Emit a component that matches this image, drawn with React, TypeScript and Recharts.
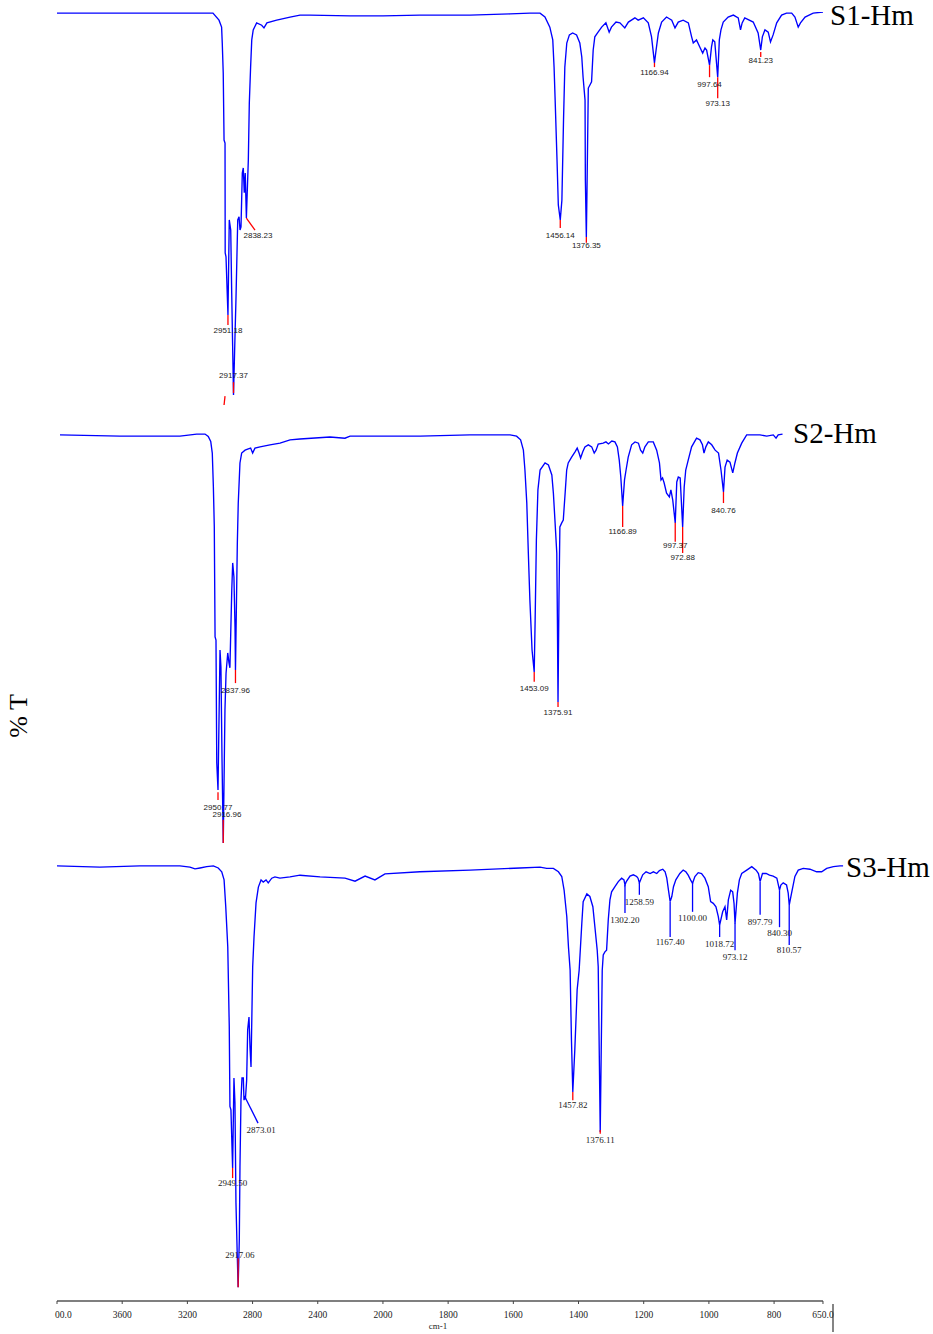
import React from "react";
import { ComposedChart, Line, XAxis, YAxis, ReferenceLine, Scatter } from "recharts";

// ---------- data ----------
// [wavenumber (cm-1), %T]
const s1Spectrum: [number, number][] = [
  [4000, 99.7], [3613, 99.7], [3429, 99.7], [3184, 99.7], [3043, 99.7], [3006, 97.9], [2990, 96.1], [2986, 92.0],
  [2980, 84.3], [2975, 67.0], [2969, 66.2], [2968, 37.9], [2963, 36.9], [2951, 21.9], [2943, 46.4], [2934, 43.8],
  [2928, 27.6], [2923, 15.5], [2917, 1.3], [2908, 16.2], [2902, 25.8], [2891, 46.4], [2883, 47.2], [2877, 43.8],
  [2871, 44.6], [2863, 58.5], [2857, 59.8], [2851, 53.4], [2845, 58.5], [2838, 46.9], [2826, 61.9], [2820, 76.5],
  [2812, 85.8], [2805, 92.8], [2796, 95.4], [2775, 97.2], [2744, 96.6], [2730, 95.9], [2712, 97.2], [2652, 97.9],
  [2570, 98.7], [2509, 99.2], [2448, 99.2], [2202, 99.0], [2000, 99.0], [1887, 99.2], [1733, 99.2], [1610, 99.5],
  [1549, 99.7], [1518, 99.7], [1503, 98.7], [1488, 96.1], [1479, 92.8], [1475, 85.8], [1472, 78.1], [1466, 61.9],
  [1462, 50.3], [1456, 46.4], [1451, 51.5], [1446, 72.2], [1442, 85.8], [1436, 92.0], [1428, 94.1], [1418, 94.6],
  [1406, 94.1], [1396, 92.0], [1390, 88.4], [1386, 83.2], [1380, 77.3], [1379, 56.7], [1376, 42.0], [1374, 54.1],
  [1370, 80.4], [1365, 81.2], [1360, 82.0], [1355, 90.2], [1350, 93.6], [1340, 94.8], [1329, 96.1], [1316, 97.2],
  [1306, 94.8], [1299, 96.1], [1285, 97.4], [1273, 97.2], [1258, 95.9], [1247, 97.4], [1227, 98.5], [1217, 97.9],
  [1201, 98.5], [1186, 97.2], [1176, 93.6], [1167, 86.9], [1162, 90.2], [1155, 94.6], [1145, 97.4], [1130, 98.7],
  [1114, 97.9], [1104, 95.9], [1094, 97.4], [1079, 97.9], [1063, 97.2], [1053, 93.6], [1048, 92.0], [1038, 92.8],
  [1028, 91.0], [1019, 89.4], [1012, 90.7], [1007, 90.2], [998, 86.3], [992, 91.0], [988, 92.8], [982, 92.3],
  [973, 83.2], [968, 92.8], [963, 95.4], [956, 97.4], [941, 98.7], [925, 99.2], [910, 98.5], [903, 95.4],
  [898, 97.2], [890, 98.5], [864, 97.4], [849, 94.6], [841, 90.2], [836, 93.6], [828, 95.4], [818, 94.8],
  [811, 92.3], [803, 94.1], [792, 97.2], [777, 99.2], [762, 99.7], [746, 99.7], [736, 98.7], [726, 96.1],
  [719, 97.2], [705, 98.7], [680, 99.7], [650, 100],
];

const s2Spectrum: [number, number][] = [
  [3973, 99.3], [3585, 99.0], [3197, 99.0], [3089, 99.5], [3035, 99.5], [3014, 98.9], [2998, 97.7], [2988, 94.9],
  [2981, 86.8], [2975, 77.1], [2970, 50.4], [2964, 49.6], [2959, 19.9], [2951, 13.3], [2938, 47.2], [2932, 43.1],
  [2925, 20.6], [2917, 0.5], [2906, 32.7], [2899, 41.6], [2888, 46.5], [2880, 44.1], [2874, 42.9], [2862, 61.7],
  [2856, 68.3], [2848, 64.9], [2841, 52.8], [2838, 42.4], [2826, 73.1], [2820, 82.8], [2809, 92.5], [2798, 94.9],
  [2776, 95.6], [2755, 95.9], [2740, 96.1], [2727, 94.9], [2712, 96.1], [2679, 96.4], [2615, 96.9], [2550, 97.3],
  [2485, 98.1], [2421, 98.3], [2227, 98.8], [2130, 98.5], [2097, 99.0], [1952, 99.0], [1822, 99.0], [1661, 99.3],
  [1564, 99.3], [1531, 99.3], [1510, 99.0], [1497, 98.1], [1488, 95.6], [1483, 90.8], [1477, 82.8], [1472, 70.7],
  [1467, 59.3], [1460, 47.2], [1453, 41.9], [1450, 54.5], [1446, 73.8], [1441, 86.0], [1434, 90.8], [1418, 92.5],
  [1407, 92.0], [1396, 89.6], [1391, 85.2], [1386, 78.7], [1380, 70.7], [1378, 54.5], [1376, 34.6], [1373, 59.3],
  [1370, 77.0], [1364, 78.0], [1359, 78.7], [1353, 85.2], [1348, 90.8], [1343, 92.5], [1332, 93.9], [1321, 95.2],
  [1314, 96.1], [1308, 94.9], [1303, 93.7], [1296, 95.2], [1289, 96.4], [1278, 96.9], [1267, 96.4], [1259, 94.9],
  [1253, 95.6], [1246, 97.1], [1230, 97.3], [1221, 97.6], [1213, 97.1], [1202, 97.8], [1192, 97.6], [1184, 96.4],
  [1178, 93.2], [1173, 89.1], [1167, 82.1], [1161, 88.4], [1156, 90.8], [1149, 93.9], [1138, 96.9], [1127, 97.6],
  [1116, 97.3], [1109, 95.6], [1102, 94.9], [1095, 96.4], [1084, 97.6], [1068, 97.6], [1057, 95.6], [1048, 92.5],
  [1043, 88.4], [1038, 88.9], [1033, 87.7], [1025, 85.2], [1016, 84.3], [1011, 86.0], [1005, 83.5], [997, 78.0],
  [992, 87.9], [987, 89.1], [981, 88.9], [973, 77.0], [968, 86.7], [963, 90.8], [955, 93.2], [944, 96.4],
  [928, 98.5], [917, 98.1], [909, 96.9], [904, 94.9], [898, 96.4], [890, 97.6], [879, 96.9], [868, 95.6],
  [857, 94.9], [849, 90.8], [841, 85.5], [836, 91.5], [829, 93.2], [820, 92.7], [811, 90.1], [804, 92.5],
  [796, 94.9], [782, 97.3], [766, 99.3], [745, 99.3], [723, 99.3], [701, 99.0], [680, 99.3], [671, 98.5],
  [664, 99.3], [650, 99.5],
];

const s3Spectrum: [number, number][] = [
  [4000, 99.1], [3743, 98.8], [3504, 99.1], [3265, 99.1], [3205, 98.8], [3175, 98.4], [3145, 98.6], [3105, 98.9],
  [3065, 99.1], [3036, 98.6], [3015, 97.7], [3001, 95.8], [2991, 89.5], [2979, 80.1], [2970, 61.3], [2966, 42.6],
  [2960, 41.8], [2950, 28.2], [2942, 49.3], [2936, 43.4], [2930, 20.0], [2923, 8.9], [2917, 0.2], [2910, 11.3],
  [2906, 28.4], [2900, 44.1], [2894, 49.3], [2886, 49.3], [2882, 44.1], [2876, 44.8], [2873, 44.6], [2866, 48.8],
  [2860, 60.6], [2852, 63.6], [2846, 56.6], [2840, 51.9], [2836, 61.3], [2830, 75.4], [2822, 82.4], [2810, 90.4],
  [2796, 94.1], [2780, 95.8], [2767, 95.3], [2750, 95.8], [2737, 95.1], [2716, 96.2], [2697, 96.5], [2667, 96.2],
  [2607, 96.5], [2547, 96.9], [2427, 96.5], [2278, 96.2], [2218, 95.5], [2158, 96.7], [2099, 95.8], [2039, 97.2],
  [1915, 97.7], [1765, 98.1], [1616, 98.6], [1556, 98.8], [1536, 98.5], [1516, 98.5], [1501, 97.7], [1491, 96.6],
  [1484, 93.4], [1476, 87.2], [1471, 80.1], [1466, 74.6], [1462, 58.2], [1458, 46.0], [1452, 55.9], [1445, 70.0],
  [1439, 74.6], [1431, 85.7], [1427, 90.7], [1416, 92.5], [1407, 91.9], [1398, 89.5], [1392, 84.8], [1385, 79.3],
  [1382, 75.4], [1379, 55.9], [1376, 36.6], [1373, 55.9], [1370, 74.6], [1367, 78.2], [1362, 78.9], [1357, 79.3],
  [1352, 86.4], [1347, 91.1], [1342, 93.0], [1332, 94.2], [1322, 95.4], [1312, 96.2], [1305, 95.8], [1302, 94.6],
  [1298, 95.4], [1287, 96.7], [1277, 97.0], [1267, 96.6], [1263, 96.2], [1259, 95.1], [1249, 97.0], [1239, 97.7],
  [1227, 97.3], [1217, 97.7], [1207, 97.3], [1199, 98.0], [1189, 98.3], [1182, 97.7], [1177, 96.2], [1172, 93.4],
  [1167, 90.7], [1162, 91.9], [1157, 94.2], [1150, 95.8], [1138, 97.3], [1128, 98.1], [1120, 97.7], [1113, 96.9],
  [1106, 95.8], [1100, 95.0], [1093, 96.6], [1083, 97.5], [1073, 97.3], [1063, 96.2], [1053, 94.2], [1046, 90.7],
  [1038, 90.3], [1030, 89.5], [1023, 87.2], [1019, 85.2], [1010, 88.3], [1003, 89.5], [998, 86.4], [993, 91.1],
  [986, 93.4], [980, 93.0], [976, 90.3], [973, 85.6], [966, 92.7], [960, 95.8], [953, 97.3], [938, 98.1],
  [923, 98.9], [910, 98.1], [903, 97.3], [898, 95.4], [891, 97.3], [880, 97.3], [870, 96.9], [859, 96.7],
  [848, 96.2], [840, 93.4], [836, 94.6], [829, 95.1], [819, 94.6], [814, 92.7], [811, 89.9], [804, 92.7],
  [794, 96.6], [784, 98.1], [769, 98.5], [749, 98.3], [729, 97.7], [714, 97.7], [699, 98.5], [679, 98.9],
  [659, 99.1], [650, 99.1],
];

type Peak = { text: string; wn: number; tipT: number; endT: number; lblT?: number; endWn?: number; lblWn?: number };

const s1Peaks: Peak[] = [
  { text: "2951.18", wn: 2951, tipT: 21.9, endT: 19.3, lblT: 18.0 },
  { text: "2917.37", wn: 2917, tipT: 1.8, endT: 4.6, lblT: 6.2 },
  { text: "2838.23", wn: 2838, tipT: 46.9, endT: 43.8, endWn: 2785, lblT: 42.5, lblWn: 2767 },
  { text: "1456.14", wn: 1456, tipT: 46.4, endT: 44.3, lblT: 42.5 },
  { text: "1376.35", wn: 1376, tipT: 42.0, endT: 40.5, lblT: 39.7 },
  { text: "1166.94", wn: 1167, tipT: 86.9, endT: 85.8, lblT: 84.5 },
  { text: "997.64", wn: 998, tipT: 86.3, endT: 83.2, lblT: 81.4 },
  { text: "973.13", wn: 973, tipT: 83.2, endT: 77.8, lblT: 76.3 },
  { text: "841.23", wn: 841, tipT: 89.7, endT: 88.4, lblT: 87.4 },
  { text: "", wn: 2969, tipT: 1.0, endT: -1.3, endWn: 2975 },
];

const s2Peaks: Peak[] = [
  { text: "2950.77", wn: 2951, tipT: 12.8, endT: 10.9, lblT: 9.2 },
  { text: "2916.96", wn: 2917, tipT: 0.5, endT: 6.1, lblT: 7.5, lblWn: 2893 },
  { text: "2837.96", wn: 2838, tipT: 42.4, endT: 39.2, lblT: 37.5 },
  { text: "1453.09", wn: 1453, tipT: 41.9, endT: 39.5, lblT: 37.8 },
  { text: "1375.91", wn: 1376, tipT: 34.6, endT: 33.4, lblT: 32.2 },
  { text: "1166.89", wn: 1167, tipT: 82.1, endT: 77.0, lblT: 75.8 },
  { text: "997.37", wn: 997, tipT: 78.0, endT: 73.4, lblT: 72.6 },
  { text: "972.88", wn: 973, tipT: 77.0, endT: 70.7, lblT: 69.7 },
  { text: "840.76", wn: 841, tipT: 85.5, endT: 82.8, lblT: 81.1 },
];

const s3PeaksRed: Peak[] = [
  { text: "2949.50", wn: 2950, tipT: 28.2, endT: 25.8, lblT: 24.6 },
  { text: "2917.06", wn: 2917, tipT: 0.2, endT: 7.0, lblT: 7.7, lblWn: 2906 },
  { text: "1457.82", wn: 1458, tipT: 46.0, endT: 44.1, lblT: 43.0 },
  { text: "1376.11", wn: 1376, tipT: 37.1, endT: 36.2, lblT: 34.7 },
];

const s3PeaksBlue: Peak[] = [
  { text: "2873.01", wn: 2873, tipT: 44.6, endT: 38.7, endWn: 2798, lblT: 37.1, lblWn: 2780 },
  { text: "1302.20", wn: 1302, tipT: 94.6, endT: 88.0, lblT: 86.4 },
  { text: "1258.59", wn: 1259, tipT: 95.1, endT: 92.3, lblT: 90.6 },
  { text: "1167.40", wn: 1167, tipT: 90.6, endT: 82.4, lblT: 81.2 },
  { text: "1100.00", wn: 1100, tipT: 95.1, endT: 88.3, lblT: 86.9 },
  { text: "1018.72", wn: 1019, tipT: 85.2, endT: 82.4, lblT: 80.8 },
  { text: "973.12", wn: 973, tipT: 85.7, endT: 79.3, lblT: 77.7 },
  { text: "897.79", wn: 898, tipT: 95.3, endT: 87.6, lblT: 85.9 },
  { text: "840.30", wn: 840, tipT: 93.4, endT: 84.7, lblT: 83.3 },
  { text: "810.57", wn: 811, tipT: 89.9, endT: 80.5, lblT: 79.3 },
];

const xTickWn = [4000, 3600, 3200, 2800, 2400, 2000, 1800, 1600, 1400, 1200, 1000, 800, 650];
const xTickLabels = ["00.0", "3600", "3200", "2800", "2400", "2000", "1800", "1600", "1400", "1200", "1000", "800", "650.0"];
const yTickIndex = [19, 20, 21, 22, 23, 24, 25, 26];
const traceTitles = ["S1-Hm", "S2-Hm", "S3-Hm"];

// ---------- layout ----------
const W = 933;
const H = 1334;
const PLOT = { left: 57, right: 845, top: 12, bottom: 1301 };
const XAXIS_H = 30;

// FTIR axis: 400 cm-1 per division above 2000, 200 cm-1 per division below
const toPos = (wn: number) => (wn >= 2000 ? (4000 - wn) / 400 : 5 + (2000 - wn) / 200);

const xDomain = (x4000: number, pxPerDiv: number): [number, number] => [
  (PLOT.left - x4000) / pxPerDiv,
  (PLOT.right - x4000) / pxPerDiv,
];
const yDomain = (y100: number, y0: number): [number, number] => {
  const k = (y0 - y100) / 100;
  const hi = 100 + (y100 - PLOT.top) / k;
  const lo = hi - (PLOT.bottom - PLOT.top) / k;
  return [lo, hi];
};

const toXY = (s: [number, number][]) => s.map(([wn, t]) => ({ x: toPos(wn), y: t }));
const toLabels = (ps: Peak[]) =>
  ps.filter((p) => p.text && p.lblT !== undefined).map((p) => ({
    x: toPos(p.lblWn ?? p.endWn ?? p.wn),
    y: p.lblT as number,
    text: p.text,
  }));

const traces = [
  { id: "s1", data: toXY(s1Spectrum), xd: xDomain(57, 65.19), yd: yDomain(12, 400),
    groups: [{ peaks: s1Peaks, color: "#ff0000" }], font: "Liberation Sans", fs: 8 },
  { id: "s2", data: toXY(s2Spectrum), xd: xDomain(55.8, 61.85), yd: yDomain(432, 845),
    groups: [{ peaks: s2Peaks, color: "#ff0000" }], font: "Liberation Sans", fs: 8 },
  { id: "s3", data: toXY(s3Spectrum), xd: xDomain(57, 66.9), yd: yDomain(862, 1288),
    groups: [{ peaks: s3PeaksRed, color: "#ff0000" }, { peaks: s3PeaksBlue, color: "#0000ff" }],
    font: "Liberation Serif", fs: 9 },
];

const mainX = xDomain(57, 65.19);
const yDivPx = 48.2;
const mainY: [number, number] = [
  -(PLOT.bottom - 42) / yDivPx + 26,
  -(PLOT.bottom - 42) / yDivPx + 26 + (PLOT.bottom - PLOT.top) / yDivPx,
];

const XTick = (props: any) => {
  const { x, y, index } = props;
  const label = xTickLabels[index];
  const first = index === 0;
  return (
    <text x={first ? x - 2 : x} y={y + 11.5} textAnchor={first ? "start" : "middle"}
      fontFamily="Liberation Serif" fontSize={9.5} fill="#222">
      {label}
    </text>
  );
};
const EmptyTick = () => <g />;

const makeLabelShape = (font: string, fs: number) => (props: any) => {
  const { cx, cy, payload } = props;
  return (
    <text x={cx} y={cy} textAnchor="middle" dominantBaseline="central" fontFamily={font}
      fontSize={fs} fill="#222">
      {payload.text}
    </text>
  );
};

export default function App() {
  return (
    <div style={{ position: "absolute", left: 0, top: 0, width: W, height: H, background: "#fff" }}>
      <ComposedChart
        width={W}
        height={H}
        margin={{ top: PLOT.top, left: PLOT.left, right: W - PLOT.right, bottom: H - PLOT.bottom - XAXIS_H }}
      >
        <XAxis xAxisId="main" type="number" dataKey="x" domain={mainX} allowDataOverflow
          ticks={xTickWn.map(toPos)} interval={0} height={XAXIS_H} axisLine={false}
          tickSize={3} tickMargin={2} tickLine={{ stroke: "#444", strokeWidth: 1 }} tick={<XTick />} />
        <YAxis yAxisId="main" type="number" domain={mainY} allowDataOverflow width={0}
          ticks={yTickIndex} interval={0} tickSize={3} tick={<EmptyTick />}
          axisLine={{ stroke: "#555", strokeWidth: 1.6 }} tickLine={{ stroke: "#222", strokeWidth: 1.2 }} />
        {traces.map((t) => [
          <XAxis key={t.id + "x"} xAxisId={t.id} type="number" dataKey="x" domain={t.xd} allowDataOverflow hide />,
          <YAxis key={t.id + "y"} yAxisId={t.id} type="number" dataKey="y" domain={t.yd} allowDataOverflow hide />,
        ])}
        <ReferenceLine xAxisId="main" yAxisId="main" ifOverflow="visible" stroke="#555" strokeWidth={1.6}
          segment={[{ x: toPos(4000), y: mainY[0] }, { x: toPos(650), y: mainY[0] }]} />
        {traces.map((t) => (
          <Line key={t.id} xAxisId={t.id} yAxisId={t.id} data={t.data} dataKey="y" type="linear"
            stroke="#0000ff" strokeWidth={1.35} dot={false} activeDot={false} isAnimationActive={false} />
        ))}
        {traces.map((t) =>
          t.groups.map((g, gi) =>
            g.peaks.map((p, i) => (
              <ReferenceLine key={`${t.id}-${gi}-${i}`} xAxisId={t.id} yAxisId={t.id} ifOverflow="visible"
                stroke={g.color} strokeWidth={1.3}
                segment={[{ x: toPos(p.wn), y: p.tipT }, { x: toPos(p.endWn ?? p.wn), y: p.endT }]} />
            ))
          )
        )}
        {traces.map((t) => (
          <Scatter key={t.id + "lbl"} xAxisId={t.id} yAxisId={t.id} dataKey="y"
            data={t.groups.flatMap((g) => toLabels(g.peaks))}
            shape={makeLabelShape(t.font, t.fs)} isAnimationActive={false} />
        ))}
      </ComposedChart>
      <svg width={W} height={H} style={{ position: "absolute", left: 0, top: 0, pointerEvents: "none" }}>
        <text x={830} y={25} fontFamily="Liberation Serif" fontSize={29} fill="#000">{traceTitles[0]}</text>
        <text x={793} y={443} fontFamily="Liberation Serif" fontSize={29} fill="#000">{traceTitles[1]}</text>
        <text x={846} y={877} fontFamily="Liberation Serif" fontSize={29} fill="#000">{traceTitles[2]}</text>
        <text x={0} y={0} transform="translate(27 716) rotate(-90)" textAnchor="middle"
          fontFamily="Liberation Serif" fontSize={26} fill="#000">% T</text>
        <text x={438} y={1329} textAnchor="middle" fontFamily="Liberation Serif" fontSize={9} fill="#222">cm-1</text>
        <line x1={833} y1={1304} x2={833} y2={1332} stroke="#333" strokeWidth={1.2} />
      </svg>
    </div>
  );
}
